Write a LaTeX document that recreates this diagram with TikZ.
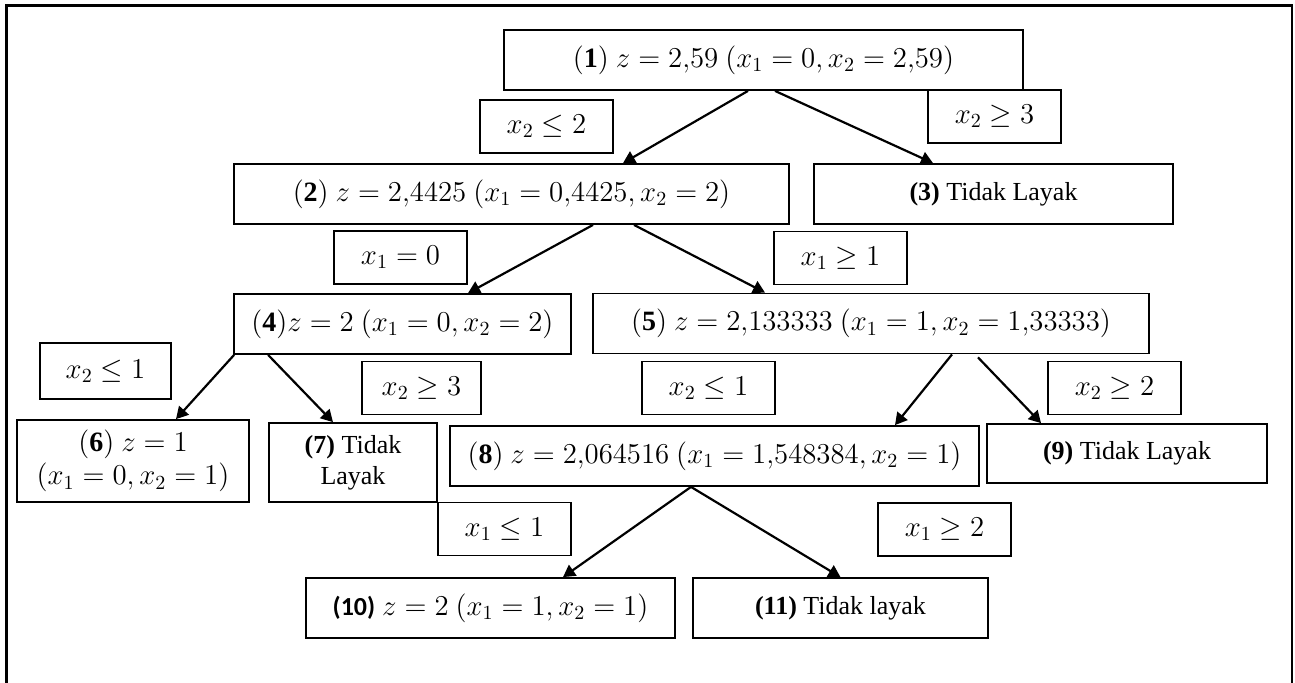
\documentclass[tikz,border=0pt]{standalone}
\usepackage{fontspec}
\setmainfont{Liberation Serif}
\newfontfamily\timesfont{Liberation Serif}
\newfontfamily\calibri{Carlito}
\usetikzlibrary{calc}
\usetikzlibrary{arrows.meta}
\tikzstyle{frame}=	[line width=1.4pt]
\tikzstyle{box}=	[draw, line width=0.9pt, inner sep=0pt, align=center, font=\fontsize{14}{16.5}\selectfont]
\tikzstyle{res}=	[box, minimum height=30pt]
\tikzstyle{word}=	[font=\timesfont\fontsize{13}{15.5}\selectfont]
\tikzstyle{cut}=	[box, minimum width=66.5pt, minimum height=26.5pt]
\tikzstyle{arr}=	[line width=1.1pt, -{Triangle[length=6pt,width=6.5pt]}]

\begin{document}
\begin{tikzpicture}[x=0.5pt,y=-0.5pt]
	\useasboundingbox (0,0) rectangle (1295,682);

	% outer frame
	\draw[frame] (6.5,683) |- (1292,5.5) -- (1292,683);

	%%% results
	% level 1 and 2
	\node[res, minimum width=259.5pt] (n1) at (763.5,60) {$(\mathbf{1})\ z = 2{,}59\ (x_1 = 0, x_2 = 2{,}59)$};
	\node[res, minimum width=277.5pt] (n2) at (511.5,194) {$(\mathbf{2})\ z = 2{,}4425\ (x_1 = 0{,}4425, x_2 = 2)$};
	\node[res, word, minimum width=179.5pt] (n3) at (993.5,194) {\textbf{(3)} Tidak Layak};

	% level 3
	\node[res, minimum width=168.5pt] (n4) at (402.5,324) {$(\mathbf{4})z = 2\ (x_1 = 0, x_2 = 2)$};
	\node[res, minimum width=278pt] (n5) at (871,323.5) {$(\mathbf{5})\ z = 2{,}133333\ (x_1 = 1, x_2 = 1{,}33333)$};

	% level 4
	\node[box, minimum width=116pt, minimum height=41pt] (n6) at (133,461) {$(\mathbf{6})\ z = 1$\\$(x_1 = 0, x_2 = 1)$};
	\node[box, word, minimum width=84pt, minimum height=39.5pt] (n7) at (353,462.5) {\textbf{(7)} Tidak\\Layak};
	\node[res, minimum width=264.5pt] (n8) at (714.5,456) {$(\mathbf{8})\ z = 2{,}064516\ (x_1 = 1{,}548384, x_2 = 1)$};
	\node[res, word, minimum width=140pt, minimum height=29.5pt] (n9) at (1127,453.5) {\textbf{(9)} Tidak Layak};

	% level 5
	\node[res, minimum width=184.5pt] (n10) at (490.5,608) {{\calibri\bfseries\fontsize{13}{15.5}\selectfont (10)} $z = 2\ (x_1 = 1, x_2 = 1)$};
	\node[res, word, minimum width=147.5pt] (n11) at (840.5,608) {\textbf{(11)} Tidak layak};

	%%% cuts
	\node[cut] (c12) at (546.5,126.5) {$x_2 \leq 2$};
	\node[cut] (c13) at (994.5,116.5) {$x_2 \geq 3$};
	\node[cut] (c24) at (400.5,257.5) {$x_1 = 0$};
	\node[cut] (c25) at (840.5,258) {$x_1 \geq 1$};
	\node[cut, minimum width=65.5pt, minimum height=28pt] (c46) at (105.5,371) {$x_2 \leq 1$};
	\node[cut, minimum width=59.5pt] (c47) at (421.5,388) {$x_2 \geq 3$};
	\node[cut] (c58) at (708.5,388) {$x_2 \leq 1$};
	\node[cut] (c59) at (1114.5,388) {$x_2 \geq 2$};
	\node[cut] (c810) at (504.5,529) {$x_1 \leq 1$};
	\node[cut] (c811) at (944.5,529.5) {$x_1 \geq 2$};

	%%% branches
	\draw[arr] ($(n1.south)+(-15.5,0)$) -- ($(n2.north)+(111.5,0)$);
	\draw[arr] ($(n1.south)+(11.5,0)$) -- ($(n3.north)+(-60.5,0)$);
	\draw[arr] ($(n2.south)+(81.5,0)$) -- ($(n4.north)+(65.5,0)$);
	\draw[arr] ($(n2.south)+(122.5,0)$) -- ($(n5.north)+(-106,0)$);
	\draw[arr] ($(n4.south west)+(1,0)$) -- ($(n6.north)+(43,0)$);
	\draw[arr] ($(n4.south west)+(35,0)$) -- ($(n7.north)+(-20,0)$);
	\draw[arr] ($(n5.south)+(81,0)$) -- ($(n8.north)+(180.5,0)$);
	\draw[arr] ($(n5.south)+(107,3)$) -- ($(n9.north)+(-86,0)$);
	\draw[arr] ($(n8.south)+(-23.5,0)$) -- ($(n10.north)+(72.5,0)$);
	\draw[arr] ($(n8.south)+(-23.5,0)$) -- (n11.north);

\end{tikzpicture}
\end{document}
